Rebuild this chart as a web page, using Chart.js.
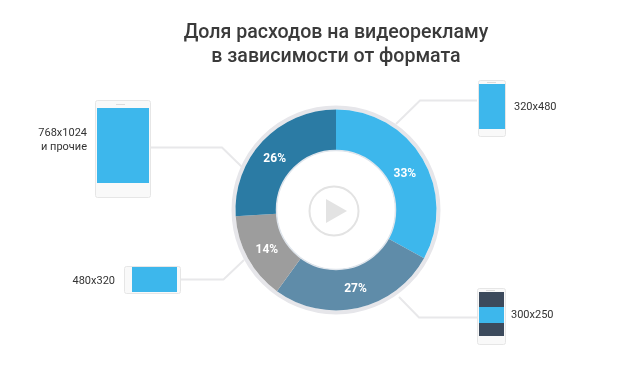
<!DOCTYPE html>
<html lang="ru">
<head>
<meta charset="utf-8">
<title>Доля расходов на видеорекламу</title>
<script src="https://cdn.jsdelivr.net/npm/chart.js@4"></script>
<style>
  html, body { margin: 0; padding: 0; background: #fff; }
  canvas { display: block; }
</style>
</head>
<body>
<canvas id="chart" width="644" height="375"></canvas>
<script>
const titleLines = ['Доля расходов на видеорекламу', 'в зависимости от формата'];
const formats = ['320x480', '300x250', '480x320', '768x1024 и прочие'];
const shares = [33, 27, 14, 26];
const sliceColors = ['#3db7ec', '#5f8ca9', '#9d9d9d', '#2b7ba4'];

const LINE = '#e8e8ea', BLUE = '#3db7ec', EDGE = '#e6e6e6';

function leader(ctx, pts) {
  ctx.beginPath();
  pts.forEach((p, i) => i ? ctx.lineTo(p[0], p[1]) : ctx.moveTo(p[0], p[1]));
  ctx.strokeStyle = LINE;
  ctx.lineWidth = 2;
  ctx.stroke();
}

// корпус устройства + экран
function device(ctx, x, y, w, h, sx, sy, sw, sh) {
  ctx.beginPath();
  ctx.roundRect(x + .5, y + .5, w, h, 2);
  ctx.fillStyle = '#f9f9f9';
  ctx.fill();
  ctx.strokeStyle = EDGE;
  ctx.lineWidth = 1;
  ctx.stroke();
  ctx.fillStyle = BLUE;
  ctx.fillRect(sx, sy, sw, sh);
}

function label(ctx, text, x, y, align) {
  ctx.font = '11px Roboto';
  ctx.fillStyle = '#333';
  ctx.textAlign = align;
  ctx.textBaseline = 'middle';
  ctx.fillText(text, x, y);
}

const decorPlugin = {
  id: 'decor',
  beforeDatasetsDraw(chart) {
    const ctx = chart.ctx;
    const arc = chart.getDatasetMeta(0).data[0];
    ctx.save();
    leader(ctx, [[151, 147.5], [222, 147.5], [242, 167]]);
    leader(ctx, [[181, 279.5], [223.5, 279.5], [244, 260]]);
    leader(ctx, [[477, 100.5], [420, 100.5], [396, 124]]);
    leader(ctx, [[477, 317.5], [419, 317.5], [399, 297]]);

    device(ctx, 95, 100, 55, 97, 97, 108, 52, 75);
    device(ctx, 124, 266, 56, 27, 132, 267, 45, 25);
    device(ctx, 478, 80, 27, 56, 479, 84, 26, 45);
    device(ctx, 477, 288, 28, 56, 479, 292, 25, 44);
    ctx.fillStyle = '#3c4a5c';
    ctx.fillRect(479, 292, 25, 15);
    ctx.fillRect(479, 323, 25, 13);

    // динамики
    ctx.fillStyle = '#dcdcdc';
    ctx.fillRect(116, 104, 9, 1);
    ctx.fillRect(487, 82, 9, 1);
    ctx.fillRect(486, 290, 9, 1);

    label(ctx, '768x1024', 87, 133, 'right');
    label(ctx, 'и прочие', 87, 147, 'right');
    label(ctx, '480x320', 115, 281, 'right');
    label(ctx, '320x480', 514, 107, 'left');
    label(ctx, '300x250', 511, 315, 'left');

    // серое кольцо вокруг диаграммы
    ctx.beginPath();
    ctx.arc(arc.x, arc.y, arc.outerRadius + 2, 0, Math.PI * 2);
    ctx.strokeStyle = '#e6e6ea';
    ctx.lineWidth = 4;
    ctx.stroke();
    ctx.restore();
  },
  afterDatasetsDraw(chart) {
    const ctx = chart.ctx;
    const meta = chart.getDatasetMeta(0);
    const arc = meta.data[0];
    ctx.save();

    // внутренняя граница и значок play
    ctx.beginPath();
    ctx.arc(arc.x, arc.y, arc.innerRadius, 0, Math.PI * 2);
    ctx.strokeStyle = '#dfe5ec';
    ctx.lineWidth = 1.5;
    ctx.stroke();
    ctx.beginPath();
    ctx.arc(arc.x - 2, arc.y + 1, 24.5, 0, Math.PI * 2);
    ctx.strokeStyle = '#e3e3e3';
    ctx.lineWidth = 2;
    ctx.stroke();
    ctx.beginPath();
    ctx.moveTo(arc.x - 10, arc.y - 11);
    ctx.lineTo(arc.x + 11, arc.y + 1);
    ctx.lineTo(arc.x - 10, arc.y + 13);
    ctx.closePath();
    ctx.fillStyle = '#e3e3e3';
    ctx.fill();

    // подписи долей: в оригинале чуть смещены от центра сектора
    const nudge = [[0, 5], [2, 1], [1, 2], [-3, 4]];
    ctx.font = '700 12px Roboto';
    ctx.fillStyle = '#fff';
    ctx.textAlign = 'center';
    ctx.textBaseline = 'middle';
    meta.data.forEach((a, i) => {
      const p = a.getCenterPoint();
      ctx.fillText(shares[i] + '%', p.x + nudge[i][0], p.y + nudge[i][1]);
    });
    ctx.restore();
  }
};

new Chart(document.getElementById('chart'), {
  type: 'doughnut',
  data: {
    labels: formats,
    datasets: [{
      data: shares,
      backgroundColor: sliceColors,
      borderWidth: 0
    }]
  },
  options: {
    responsive: false,
    animation: false,
    radius: 100.5,
    cutout: '59.2%',
    layout: { padding: { left: 28, top: 21, bottom: 24 } },
    plugins: {
      legend: { display: false },
      tooltip: { enabled: false },
      title: {
        display: true,
        text: titleLines,
        color: '#3a3a3a',
        font: { family: 'Roboto', size: 19.6, weight: '500', lineHeight: 1.22 },
        padding: 0
      }
    }
  },
  plugins: [decorPlugin]
});
</script>
</body>
</html>
